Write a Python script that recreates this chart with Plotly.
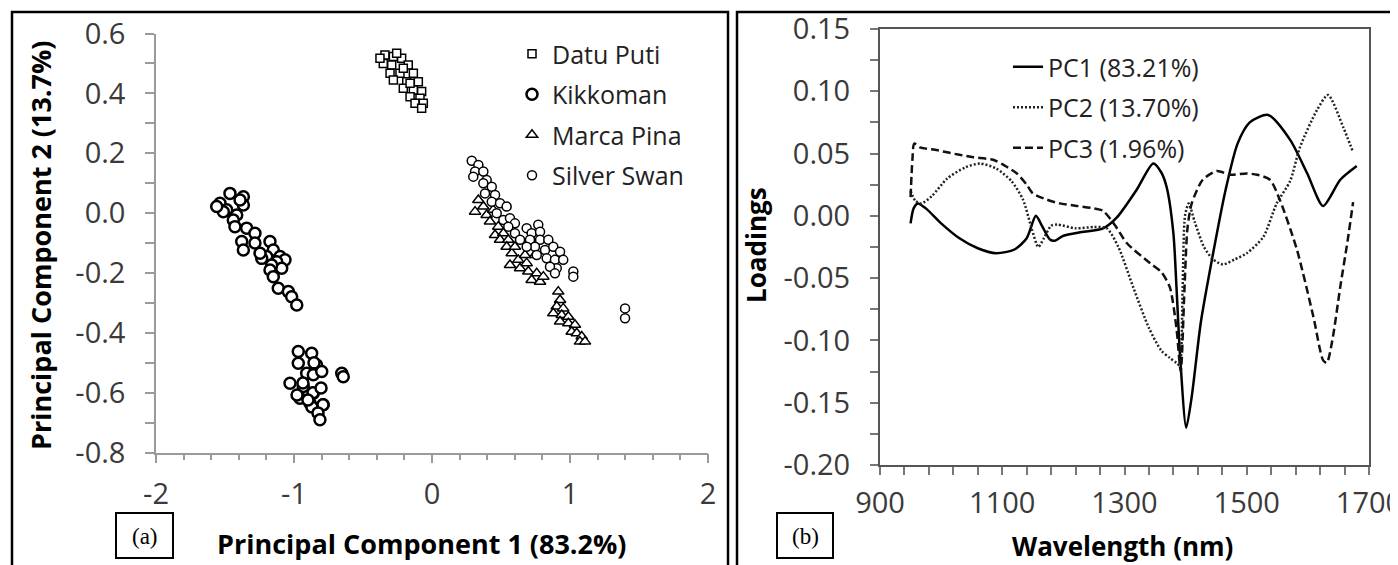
import plotly.graph_objects as go

# The page body has an 8px margin, so the figure is drawn 8px lower/right;
# layout positions below are given in window pixels and converted accordingly.
OFF = 8
W, H = 1398, 565
FW, FH = W - OFF, H - OFF

def px(x):
    return (x - OFF) / FW

def py(y):
    return (H - y) / FH

# ---------------- Panel (a) data: PCA scores ----------------
datu_x = [-0.341, -0.280, -0.220, -0.353, -0.292, -0.172, -0.304, -0.232, -0.135, -0.280,
          -0.183, -0.099, -0.208, -0.135, -0.075, -0.159, -0.087, -0.123, -0.063, -0.075,
          -0.377, -0.256, -0.208, -0.159]
datu_y = [0.528, 0.523, 0.517, 0.500, 0.495, 0.495, 0.467, 0.467, 0.467, 0.445,
          0.439, 0.439, 0.417, 0.411, 0.406, 0.389, 0.384, 0.367, 0.367, 0.350,
          0.517, 0.534, 0.484, 0.434]

kikk_x = [-1.464, -1.367, -1.536, -1.367, -1.488, -1.512, -1.560, -1.391, -1.415, -1.440,
          -1.428, -1.343, -1.283, -1.379, -1.367, -1.283, -1.174, -1.150, -1.198, -1.234,
          -1.246, -1.101, -1.065, -1.125, -1.089, -1.162, -1.174, -1.150, -1.114, -1.041,
          -1.017, -0.980,
          -0.969, -0.872, -0.969, -0.836, -0.908, -0.860, -0.799, -1.029, -0.933, -0.860,
          -0.957, -0.884, -0.788, -0.654, -0.643, -0.935, -0.978, -0.862, -0.790, -0.870,
          -0.826, -0.812, -0.899, -0.855, -0.804]
kikk_y = [0.066, 0.055, 0.033, 0.027, 0.011, 0.005, 0.022, 0.044, -0.006, -0.023,
          -0.045, -0.050, -0.067, -0.095, -0.123, -0.100, -0.095, -0.123, -0.145, -0.151,
          -0.134, -0.145, -0.156, -0.162, -0.184, -0.173, -0.190, -0.212, -0.251, -0.262,
          -0.279, -0.307,
          -0.462, -0.468, -0.501, -0.507, -0.535, -0.540, -0.529, -0.568, -0.579, -0.601,
          -0.618, -0.635, -0.640, -0.535, -0.546, -0.567, -0.607, -0.600, -0.640, -0.647,
          -0.667, -0.690, -0.624, -0.500, -0.584]

marca_x = [0.312, 0.372, 0.336, 0.396, 0.444, 0.420, 0.480, 0.457, 0.517, 0.493,
           0.553, 0.541, 0.578, 0.565, 0.625, 0.638, 0.686, 0.698, 0.759, 0.722,
           0.783, 0.746, 0.674, 0.601, 0.807,
           0.915, 0.928, 0.904, 0.951, 0.879, 0.940, 0.988, 0.928, 0.988, 1.036,
           1.012, 1.049, 1.085, 1.072, 1.109]
marca_y = [0.005, 0.022, 0.044, -0.006, 0.011, -0.028, -0.045, -0.073, -0.067, -0.089,
           -0.089, -0.112, -0.134, -0.173, -0.156, -0.184, -0.167, -0.195, -0.201, -0.223,
           -0.229, -0.140, -0.140, -0.112, -0.212,
           -0.262, -0.290, -0.312, -0.318, -0.334, -0.340, -0.346, -0.362, -0.368, -0.373,
           -0.396, -0.401, -0.412, -0.429, -0.429]

silver_x = [0.288, 0.336, 0.312, 0.372, 0.299, 0.396, 0.372, 0.433, 0.384, 0.457,
            0.433, 0.493, 0.541, 0.469, 0.517, 0.565, 0.601, 0.553, 0.601, 0.686,
            0.770, 0.722, 0.783, 0.710, 0.783, 0.843, 0.746, 0.819, 0.879, 0.928,
            0.759, 0.831, 0.891, 0.951, 0.904, 0.855, 0.891, 1.024, 1.024, 0.686,
            0.638, 1.399, 1.399]
silver_y = [0.175, 0.161, 0.139, 0.139, 0.122, 0.111, 0.100, 0.088, 0.066, 0.061,
            0.038, 0.033, 0.022, 0.000, -0.023, -0.017, -0.034, -0.045, -0.067, -0.050,
            -0.039, -0.067, -0.062, -0.089, -0.089, -0.089, -0.112, -0.123, -0.112, -0.129,
            -0.140, -0.151, -0.156, -0.156, -0.184, -0.179, -0.201, -0.195, -0.212, -0.112,
            -0.089, -0.318, -0.351]

# tick labels (a)
a_xtick_vals = [-2, -1, 0, 1, 2]
a_xtick_text = ["-2", "-1", "0", "1", "2"]
a_ytick_vals = [-0.8, -0.6, -0.4, -0.2, 0.0, 0.2, 0.4, 0.6]
a_ytick_text = ["-0.8", "-0.6", "-0.4", "-0.2", "0.0", "0.2", "0.4", "0.6"]

# ---------------- Panel (b) data: loadings ----------------
pc1_wl = [950, 955, 962, 975, 1000, 1030, 1060, 1090, 1120, 1140, 1155, 1165, 1178, 1186,
          1200, 1230, 1265, 1288, 1320, 1347, 1360, 1369, 1380, 1385, 1391, 1401, 1410,
          1425, 1445, 1465, 1485, 1505, 1535, 1571, 1599, 1625, 1653, 1680]
pc1_v = [-0.006, 0.006, 0.010, 0.006, -0.006, -0.018, -0.026, -0.030, -0.027, -0.018,
         0.000, -0.008, -0.019, -0.020, -0.016, -0.013, -0.010, -0.001, 0.021, 0.042,
         0.035, 0.023, -0.014, -0.057, -0.113, -0.170, -0.145, -0.085, -0.030, 0.020,
         0.058, 0.075, 0.081, 0.061, 0.034, 0.008, 0.029, 0.040]

pc2_wl = [950, 958, 968, 985, 1010, 1040, 1064, 1090, 1115, 1134, 1148, 1159, 1168, 1180,
          1190, 1220, 1250, 1271, 1290, 1314, 1340, 1360, 1374, 1385, 1390, 1395, 1399,
          1405, 1415, 1430, 1445, 1461, 1480, 1500, 1527, 1549, 1571, 1587, 1615, 1633,
          1658, 1674]
pc2_v = [0.020, 0.012, 0.010, 0.016, 0.030, 0.039, 0.042, 0.038, 0.028, 0.013,
         -0.010, -0.025, -0.018, -0.008, -0.007, -0.010, -0.009, -0.010, -0.025, -0.057,
         -0.090, -0.108, -0.114, -0.118, -0.120, -0.060, 0.000, 0.010, -0.005, -0.025,
         -0.035, -0.039, -0.035, -0.030, -0.017, 0.010, 0.028, 0.055, 0.085, 0.097,
         0.071, 0.051]

pc3_wl = [950, 953, 956, 965, 990, 1010, 1030, 1053, 1085, 1105, 1124, 1140, 1150, 1173,
          1194, 1222, 1250, 1265, 1285, 1304, 1342, 1360, 1374, 1385, 1392, 1398, 1403,
          1410, 1428, 1451, 1473, 1500, 1517, 1538, 1554, 1582, 1609, 1625, 1631, 1640,
          1653, 1665, 1674]
pc3_v = [0.015, 0.045, 0.058, 0.055, 0.053, 0.051, 0.049, 0.047, 0.045, 0.040,
         0.034, 0.025, 0.018, 0.013, 0.010, 0.008, 0.006, 0.004, -0.008, -0.022,
         -0.038, -0.045, -0.057, -0.090, -0.125, -0.060, -0.010, 0.010, 0.029, 0.036,
         0.033, 0.034, 0.033, 0.029, 0.013, -0.027, -0.081, -0.116, -0.118, -0.100,
         -0.057, -0.020, 0.011]

# tick labels (b)
b_xtick_vals = [900, 1100, 1300, 1500, 1700]
b_xtick_text = ["900", "1100", "1300", "1500", "1700"]
b_ytick_vals = [-0.20, -0.15, -0.10, -0.05, 0.00, 0.05, 0.10, 0.15]
b_ytick_text = ["-0.20", "-0.15", "-0.10", "-0.05", "0.00", "0.05", "0.10", "0.15"]

FONT = "Open Sans"
TICKCOL = "#3a3a3a"
TICKSIZE = 29

fig = go.Figure()

# Panel (a) traces
fig.add_trace(go.Scatter(x=datu_x, y=datu_y, mode="markers", name="Datu Puti",
                         xaxis="x", yaxis="y", legend="legend", legendgroup="a1",
                         marker=dict(symbol="square", size=8, color="white",
                                     line=dict(color="black", width=1.5))))
fig.add_trace(go.Scatter(x=kikk_x, y=kikk_y, mode="markers", name="Kikkoman",
                         xaxis="x", yaxis="y", legend="legend", legendgroup="a2",
                         marker=dict(symbol="circle", size=11, color="white",
                                     line=dict(color="black", width=2.5))))
fig.add_trace(go.Scatter(x=marca_x, y=marca_y, mode="markers", name="Marca Pina",
                         xaxis="x", yaxis="y", legend="legend", legendgroup="a3",
                         marker=dict(symbol="triangle-up", size=10, color="white",
                                     line=dict(color="black", width=1.5))))
fig.add_trace(go.Scatter(x=silver_x, y=silver_y, mode="markers", name="Silver Swan",
                         xaxis="x", yaxis="y", legend="legend", legendgroup="a4",
                         marker=dict(symbol="circle", size=9, color="white",
                                     line=dict(color="black", width=1.5))))

# Panel (b) traces
fig.add_trace(go.Scatter(x=pc1_wl, y=pc1_v, mode="lines", name="PC1 (83.21%)",
                         xaxis="x2", yaxis="y2", legend="legend2", legendgroup="b1",
                         line=dict(color="black", width=2.5, dash="solid",
                                   shape="spline", smoothing=0.7)))
fig.add_trace(go.Scatter(x=pc2_wl, y=pc2_v, mode="lines", name="PC2 (13.70%)",
                         xaxis="x2", yaxis="y2", legend="legend2", legendgroup="b2",
                         line=dict(color="#222222", width=2.5, dash="2px,2px",
                                   shape="spline", smoothing=0.7)))
fig.add_trace(go.Scatter(x=pc3_wl, y=pc3_v, mode="lines", name="PC3 (1.96%)",
                         xaxis="x2", yaxis="y2", legend="legend2", legendgroup="b3",
                         line=dict(color="#111111", width=2.5, dash="8px,4px",
                                   shape="spline", smoothing=0.7)))

axis_a = dict(showgrid=False, zeroline=False, showline=True, linecolor="#9a9a9a",
              linewidth=1.5, ticks="outside", tickcolor="#9a9a9a", tickwidth=1.5,
              automargin=False, tickmode="array", ticklabeloverflow="allow",
              tickfont=dict(family=FONT, size=TICKSIZE, color=TICKCOL))
axis_b = dict(showgrid=False, zeroline=False, showline=True, linecolor="#555555",
              linewidth=2, mirror=True, ticks="outside", tickcolor="#777777",
              tickwidth=1.5, automargin=False, tickmode="array",
              ticklabeloverflow="allow",
              tickfont=dict(family=FONT, size=TICKSIZE, color=TICKCOL))

fig.update_layout(
    width=FW, height=FH,
    margin=dict(l=0, r=0, t=0, b=0, autoexpand=False),
    paper_bgcolor="white", plot_bgcolor="white",
    showlegend=True,
    xaxis=dict(axis_a, domain=[px(156), px(708)], range=[-2, 2],
               tickvals=a_xtick_vals, ticktext=a_xtick_text,
               ticklen=9, ticklabelstandoff=6, anchor="y",
               minor=dict(tickmode="linear", tick0=-2, dtick=0.2, ticks="outside",
                          ticklen=6, tickcolor="#9a9a9a", tickwidth=1.5)),
    yaxis=dict(axis_a, domain=[py(452.7), py(33.5)], range=[-0.8, 0.6],
               tickvals=a_ytick_vals, ticktext=a_ytick_text,
               ticklen=9, ticklabelstandoff=14, anchor="x",
               minor=dict(tickmode="linear", tick0=-0.8, dtick=0.1, ticks="outside",
                          ticklen=9, tickcolor="#9a9a9a", tickwidth=1.5)),
    xaxis2=dict(axis_b, domain=[px(880), px(1369)], range=[900, 1700],
                tickvals=b_xtick_vals, ticktext=b_xtick_text,
                ticklen=8, ticklabelstandoff=3, anchor="y2",
                minor=dict(tickmode="linear", tick0=900, dtick=40, ticks="outside",
                           ticklen=8, tickcolor="#777777", tickwidth=1.5)),
    yaxis2=dict(axis_b, domain=[py(465), py(29)], range=[-0.20, 0.15],
                tickvals=b_ytick_vals, ticktext=b_ytick_text,
                ticklen=8, ticklabelstandoff=14, anchor="x2",
                minor=dict(tickmode="linear", tick0=-0.2, dtick=0.025, ticks="outside",
                           ticklen=8, tickcolor="#777777", tickwidth=1.5)),
    legend=dict(x=px(512), y=py(31), xanchor="left", yanchor="top",
                bgcolor="rgba(0,0,0,0)", borderwidth=0, tracegroupgap=5,
                font=dict(family=FONT, size=25, color="#222222"), itemsizing="trace"),
    legend2=dict(x=px(1008), y=py(44), xanchor="left", yanchor="top",
                 bgcolor="rgba(0,0,0,0)", borderwidth=0, tracegroupgap=5,
                 font=dict(family=FONT, size=25, color="#222222")),
)

# Panel borders and label boxes
shapes = [
    dict(type="rect", xref="paper", yref="paper", x0=px(12), x1=px(728),
         y0=-0.05, y1=py(12), line=dict(color="black", width=2.5)),
    dict(type="rect", xref="paper", yref="paper", x0=px(737), x1=1.02,
         y0=-0.05, y1=py(12), line=dict(color="black", width=2.5)),
    dict(type="rect", xref="paper", yref="paper", x0=px(116), x1=px(173),
         y0=py(558), y1=py(513), line=dict(color="black", width=2)),
    dict(type="rect", xref="paper", yref="paper", x0=px(777), x1=px(833),
         y0=py(558), y1=py(513), line=dict(color="black", width=2)),
]
fig.update_layout(shapes=shapes)

TITLE_FONT = dict(family=FONT, size=26, color="black")
annotations = [
    dict(text="<b>Principal Component 1 (83.2%)</b>", x=px(421), y=py(543),
         xref="paper", yref="paper", showarrow=False, font=dict(TITLE_FONT, size=27),
         xanchor="center", yanchor="middle"),
    dict(text="<b>Principal Component 2 (13.7%)</b>", x=px(41), y=py(246),
         xref="paper", yref="paper", showarrow=False, font=dict(TITLE_FONT, size=27),
         xanchor="center", yanchor="middle", textangle=-90),
    dict(text="<b>Wavelength (nm)</b>", x=px(1122), y=py(546),
         xref="paper", yref="paper", showarrow=False, font=TITLE_FONT,
         xanchor="center", yanchor="middle"),
    dict(text="<b>Loadings</b>", x=px(756), y=py(245),
         xref="paper", yref="paper", showarrow=False, font=TITLE_FONT,
         xanchor="center", yanchor="middle", textangle=-90),
    dict(text="(a)", x=px(144.5), y=py(536), xref="paper", yref="paper",
         showarrow=False, font=dict(family="Liberation Serif", size=23, color="black"),
         xanchor="center", yanchor="middle"),
    dict(text="(b)", x=px(805), y=py(536), xref="paper", yref="paper",
         showarrow=False, font=dict(family="Liberation Serif", size=23, color="black"),
         xanchor="center", yanchor="middle"),
]
fig.update_layout(annotations=annotations)

fig.write_html("out.html")
